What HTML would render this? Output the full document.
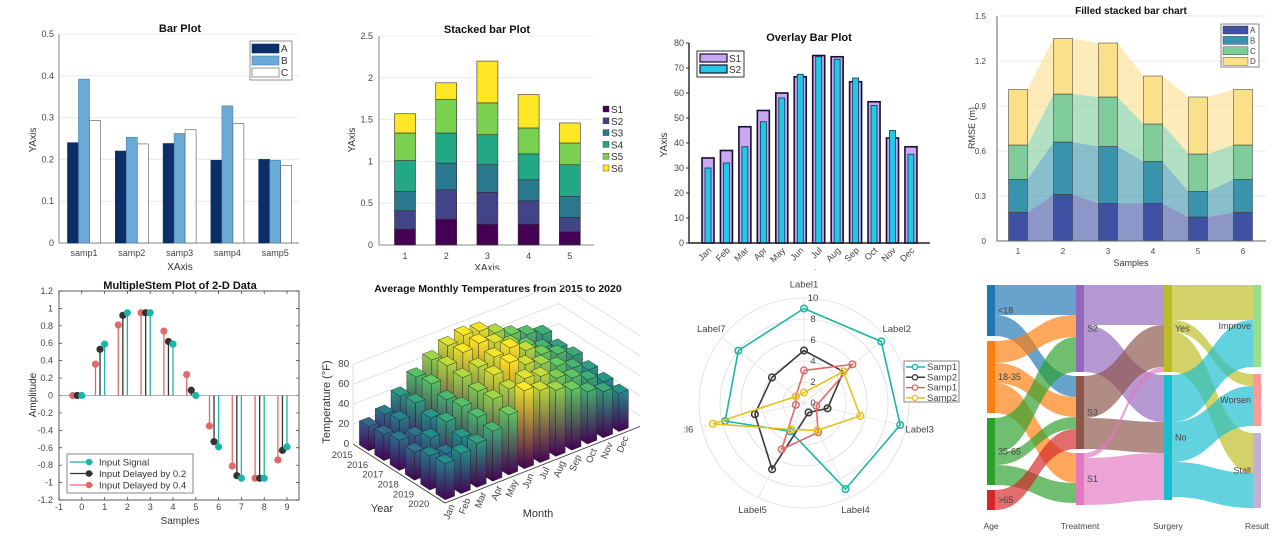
<!DOCTYPE html>
<html><head><meta charset="utf-8"><style>
body{margin:0;background:#fff;}
svg{display:block;font-family:"Liberation Sans",Arial,sans-serif;}
.tk{font-size:9px;fill:#444;}
.ttl{font-size:11px;font-weight:bold;fill:#111;}
.lab{font-size:10px;fill:#333;}
</style></head><body>
<svg id="s" width="1276" height="544" viewBox="0 0 1276 544" xmlns="http://www.w3.org/2000/svg">
<defs><clipPath id="c6"><rect x="260" y="270" width="380" height="274"/></clipPath></defs>
<rect width="1276" height="544" fill="#fff"/>
<text x="180" y="32" text-anchor="middle" class="ttl">Bar Plot</text>
<text x="487" y="33" text-anchor="middle" class="ttl">Stacked bar Plot</text>
<text x="809" y="41" text-anchor="middle" class="ttl">Overlay Bar Plot</text>
<text x="1131" y="14" text-anchor="middle" class="ttl" style="font-size:10px">Filled stacked bar chart</text>
<text x="180" y="289" text-anchor="middle" class="ttl">MultipleStem Plot of 2-D Data</text>
<text x="498" y="292" text-anchor="middle" class="ttl" style="font-size:10.5px">Average Monthly Temperatures from 2015 to 2020</text>
<text transform="translate(36,140) rotate(-90)" text-anchor="middle" class="lab">YAxis</text>
<text x="180" y="270" text-anchor="middle" class="lab">XAxis</text>
<text transform="translate(355,140) rotate(-90)" text-anchor="middle" class="lab">YAxis</text>
<text x="487" y="271" text-anchor="middle" class="lab">XAxis</text>
<text transform="translate(667,145) rotate(-90)" text-anchor="middle" class="lab">YAxis</text>
<text x="809" y="277" text-anchor="middle" class="lab">XAxis</text>
<text transform="translate(975,128) rotate(-90)" text-anchor="middle" class="lab" style="font-size:9px">RMSE (m)</text>
<text x="1131" y="266" text-anchor="middle" class="lab" style="font-size:9px">Samples</text>
<text transform="translate(36,395) rotate(-90)" text-anchor="middle" class="lab">Amplitude</text>
<text x="180" y="524" text-anchor="middle" class="lab">Samples</text>
<text transform="translate(330,402) rotate(-90)" text-anchor="middle" class="lab" style="font-size:11px">Temperature (°F)</text>
<text x="382" y="512" text-anchor="middle" class="lab" style="font-size:11px">Year</text>
<text x="538" y="517" text-anchor="middle" class="lab" style="font-size:11px">Month</text>
<rect x="360" y="270" width="600" height="8" fill="#fff"/>
<g id="p1"></g><g id="p2"></g><g id="p3"></g><g id="p4"></g><g id="p5"></g>
<g id="p6" clip-path="url(#c6)"></g><g id="p7"></g><g id="p8"></g>
</svg>
<script>
const barCats=['samp1','samp2','samp3','samp4','samp5'];
const barA=[0.24,0.22,0.238,0.198,0.2];
const barB=[0.392,0.253,0.262,0.328,0.198];
const barC=[0.293,0.237,0.271,0.286,0.185];
const barTicks=[0,0.1,0.2,0.3,0.4,0.5];

const stkCats=['1','2','3','4','5'];
const stkS1=[0.19,0.31,0.25,0.25,0.16];
const stkS2=[0.22,0.35,0.38,0.28,0.17];
const stkS3=[0.23,0.32,0.33,0.25,0.25];
const stkS4=[0.37,0.36,0.36,0.31,0.38];
const stkS5=[0.33,0.40,0.38,0.31,0.26];
const stkS6=[0.23,0.20,0.50,0.40,0.24];
const stkTicks=[0,0.5,1,1.5,2,2.5];
const stkNames=['S1','S2','S3','S4','S5','S6'];

const ovMonths=['Jan','Feb','Mar','Apr','May','Jun','Jul','Aug','Sep','Oct','Nov','Dec'];
const ovS1=[34,37,46.5,53,60,66.5,75,74.5,64.5,56.5,42,38.5];
const ovS2=[30,32,38.5,48.5,58,67.5,74.5,73.5,66,55,45,35.5];
const ovTicks=[0,10,20,30,40,50,60,70,80];

const fsCats=['1','2','3','4','5','6'];
const fsA=[0.19,0.31,0.25,0.25,0.16,0.19];
const fsB=[0.22,0.35,0.38,0.28,0.17,0.22];
const fsC=[0.23,0.32,0.33,0.25,0.25,0.23];
const fsD=[0.37,0.37,0.36,0.32,0.38,0.37];
const fsTicks=[0,0.3,0.6,0.9,1.2,1.5];

const stemX=[0,1,2,3,4,5,6,7,8,9];
const stemSig=[0,0.59,0.95,0.95,0.59,0,-0.59,-0.95,-0.95,-0.59];
const stemD2=[0,0.53,0.92,0.95,0.62,0.06,-0.53,-0.92,-0.95,-0.63];
const stemD4=[0,0.36,0.81,0.95,0.74,0.24,-0.35,-0.81,-0.95,-0.74];
const stemYTicks=[-1.2,-1,-0.8,-0.6,-0.4,-0.2,0,0.2,0.4,0.6,0.8,1,1.2];
const stemXTicks=[-1,0,1,2,3,4,5,6,7,8,9];

const t3Years=['2015','2016','2017','2018','2019','2020'];
const t3Months=['Jan','Feb','Mar','Apr','May','Jun','Jul','Aug','Sep','Oct','Nov','Dec'];
const t3Y2015=[24,30,42,55,66,74,78,76,68,60,54,48];
const t3Y2016=[26,34,45,58,70,77,80,74,66,58,50,44];
const t3Y2017=[30,28,40,52,68,72,76,79,70,60,54,46];
const t3Y2018=[28,36,46,55,64,74,80,72,66,58,50,42];
const t3Y2019=[34,30,40,54,66,70,74,70,62,56,48,40];
const t3Y2020=[36,40,44,50,60,78,72,66,60,52,46,38];
const t3ZTicks=[0,20,40,60,80];

const rdLabels=['Label1','Label2','Label3','Label4','Label5',':l6','Label7'];
const rdSamp1=[9,9.4,9.4,9.1,3,7.7,8];
const rdSamp2=[5,4.8,2.3,1,7,4.8,3.9];
const rdSamp1b=[3.1,5.9,1.2,3.1,4.9,0.8,1];
const rdSamp2b=[1,4.8,5.5,2.9,2.8,8.9,1];
const rdTicks=[0,2,4,6,8,10];

const skAge=['<18','18-35','35-65','>65'];
const skTreat=['S2','S3','S1'];
const skSurg=['Yes','No'];
const skRes=['Improve','Worsen','Stall'];
const skFlowAT=[[0,0,30],[0,1,21],[1,0,22],[1,1,20],[1,2,30],[2,0,35],[2,1,12],[2,2,20],[3,1,20]];
const skFlowTS=[[0,0,40],[0,1,47],[1,0,42],[1,1,31],[2,0,5],[2,1,47]];
const skFlowSR=[[0,0,35],[0,1,12],[0,2,40],[1,0,47],[1,1,40],[1,2,35]];

const NS='http://www.w3.org/2000/svg';
function mk(tag,attrs,parent){const e=document.createElementNS(NS,tag);for(const k in attrs)e.setAttribute(k,attrs[k]);parent.appendChild(e);return e;}
function tx(str,x,y,attrs,parent){const e=mk('text',Object.assign({x:x,y:y},attrs),parent);e.textContent=str;return e;}
function fmt(v){return (Math.round(v*10)/10).toString();}

(function(){
const g=document.getElementById('p1');
const L=59,R=299,T=34,Bt=243;
const y=v=>Bt-v/0.5*(Bt-T);
barTicks.forEach(t=>{
  const gl=mk('line',{x1:L,x2:R,y1:y(t),y2:y(t),stroke:'#ececec'},g);
  
  
  const lb=tx(String(t),L-5,y(t)+3,{class:'tk','text-anchor':'end'},g);
  
  
});
const ax=mk('path',{d:`M${L},${T}V${Bt}H${R}`,fill:'none',stroke:'#888'},g);


const series=[[barA,'#0b2e66','#0b2e66'],[barB,'#6aaad6','#4a7fa8'],[barC,'#ffffff','#555']];
barCats.forEach((c,i)=>{
  const cx=84+i*47.8;
  series.forEach((s,j)=>{
    const v=s[0][i];
    const r=mk('rect',{x:cx-16.5+j*11,y:y(v),width:11,height:Bt-y(v),fill:s[1],stroke:s[2],'stroke-width':0.6},g);
    
    
  });
  const lb=tx(c,cx,256,{class:'tk','text-anchor':'middle'},g);
  
  
});
const lg=mk('rect',{x:250,y:41,width:42,height:39,fill:'#fff',stroke:'#666','stroke-width':0.7},g);


['A','B','C'].forEach((n,j)=>{
  const sw=mk('rect',{x:252,y:44+j*12,width:27,height:9,fill:series[j][1],stroke:series[j][2],'stroke-width':0.6},g);
  
  
  const t=tx(n,281,52+j*12,{class:'lab'},g);
  
  
});
})();

(function(){
const g=document.getElementById('p2');
const L=379,R=594,T=36,Bt=245;
const y=v=>Bt-v/2.5*(Bt-T);
stkTicks.forEach(t=>{
  const gl=mk('line',{x1:L,x2:R,y1:y(t),y2:y(t),stroke:'#ececec'},g);
  
  
  const lb=tx(String(t),L-6,y(t)+3,{class:'tk','text-anchor':'end'},g);
  
  
});
const ax=mk('path',{d:`M${L},${T}V${Bt}H${R}`,fill:'none',stroke:'#888'},g);


const ser=[stkS1,stkS2,stkS3,stkS4,stkS5,stkS6];
const cols=['#440154','#414487','#2a788e','#22a884','#7ad151','#fde725'];
stkCats.forEach((c,i)=>{
  const cx=405+i*41.2;let acc=0;
  ser.forEach((s,j)=>{
    const v=s[i];
    const r=mk('rect',{x:cx-10.5,y:y(acc+v),width:21,height:y(acc)-y(acc+v),fill:cols[j],stroke:'#333','stroke-width':0.6},g);
    
    
    acc+=v;
  });
  const lb=tx(c,cx,259,{class:'tk','text-anchor':'middle'},g);
  
  
});
stkNames.forEach((n,j)=>{
  const sw=mk('rect',{x:603,y:106+j*11.8,width:6,height:6,fill:cols[j],stroke:'#333','stroke-width':0.4},g);
  
  
  const t=tx(n,611,113+j*11.8,{class:'lab'},g);
  
  
});
})();

(function(){
const g=document.getElementById('p3');
const L=689,R=930,T=43,Bt=243;
const y=v=>Bt-v/80*(Bt-T);
ovTicks.forEach(t=>{
  const tk=mk('line',{x1:L-3,x2:L,y1:y(t),y2:y(t),stroke:'#333'},g);
  
  
  const lb=tx(String(t),L-5,y(t)+3,{class:'tk','text-anchor':'end'},g);
  
  
});
ovMonths.forEach((m,i)=>{
  const cx=708+i*18.45;
  const a=mk('rect',{x:cx-6,y:y(ovS1[i]),width:12,height:Bt-y(ovS1[i]),fill:'#c8a8f0',stroke:'#1a0f2e','stroke-width':1.6},g);
  
  
  const b=mk('rect',{x:cx-3,y:y(ovS2[i]),width:6,height:Bt-y(ovS2[i]),fill:'#22c8e6',stroke:'#0b3550','stroke-width':0.8},g);
  
  
  const lb=tx(m,cx+4,251,{class:'tk','text-anchor':'end',transform:`rotate(-45 ${cx+4} 251)`},g);
  
  
});
const ax=mk('path',{d:`M${L},${T}V${Bt}H${R}`,fill:'none',stroke:'#222','stroke-width':1.4},g);


const lg=mk('rect',{x:697,y:51,width:47,height:26,fill:'#fff',stroke:'#333','stroke-width':1},g);


[['S1','#c8a8f0'],['S2','#22c8e6']].forEach((e,j)=>{
  const sw=mk('rect',{x:700,y:54+j*11,width:27,height:8,fill:e[1],stroke:'#1a0f2e','stroke-width':1.2},g);
  
  
  const t=tx(e[0],729,62+j*11,{class:'lab'},g);
  
  
});
})();

(function(){
const g=document.getElementById('p4');
const L=997,R=1266,T=16,Bt=241;
const y=v=>Bt-v/1.5*(Bt-T);
fsTicks.forEach(t=>{
  const gl=mk('line',{x1:L,x2:R,y1:y(t),y2:y(t),stroke:'#e8e8e8'},g);
  
  
  const lb=tx(t===0?'0':t.toFixed(1),L-11,y(t)+3,{class:'tk','text-anchor':'end',style:'font-size:8px'},g);
  
  
});
const ser=[fsA,fsB,fsC,fsD];
const cols=['#3f51a3','#3a93ac','#7fcb9a','#fbe08a'];
const names=['A','B','C','D'];
const cx=i=>1018+i*45;
const cum=[];let prev=fsCats.map(()=>0);
ser.forEach((s,j)=>{const c=s.map((v,i)=>prev[i]+v);cum.push({lo:prev,hi:c});prev=c;});
cum.forEach((c,j)=>{
  let d='';
  fsCats.forEach((_,i)=>{d+=(i?'L':'M')+(cx(i)-9.5)+','+y(c.hi[i])+'L'+(cx(i)+9.5)+','+y(c.hi[i]);});
  for(let i=fsCats.length-1;i>=0;i--){d+='L'+(cx(i)+9.5)+','+y(c.lo[i])+'L'+(cx(i)-9.5)+','+y(c.lo[i]);}
  const a=mk('path',{d:d+'Z',fill:cols[j],opacity:0.6},g);
  
  
});
cum.forEach((c,j)=>{
  fsCats.forEach((cat,i)=>{
    const r=mk('rect',{x:cx(i)-9.5,y:y(c.hi[i]),width:19,height:y(c.lo[i])-y(c.hi[i]),fill:cols[j],stroke:'#333','stroke-width':0.5},g);
    
    
  });
});
fsCats.forEach((cat,i)=>{
  const lb=tx(cat,cx(i),254,{class:'tk','text-anchor':'middle',style:'font-size:8px'},g);
  
  
});
const ax=mk('path',{d:`M${L},${T}V${Bt}H${R}`,fill:'none',stroke:'#666'},g);


const lg=mk('rect',{x:1221,y:24,width:38,height:43,fill:'#fff',stroke:'#555','stroke-width':0.7},g);


names.forEach((n,j)=>{
  const sw=mk('rect',{x:1223,y:26+j*10.4,width:25,height:8,fill:cols[j],stroke:'#333','stroke-width':0.4},g);
  
  
  const t=tx(n,1250,33+j*10.4,{class:'tk',style:'font-size:8px'},g);
  
  
});
})();

(function(){
const g=document.getElementById('p5');
const L=59,R=299,T=291,Bt=500;
const x=s=>L+(s+1)*22.8;
const y=v=>395.5-v*87.1;
const box=mk('rect',{x:L,y:T,width:R-L,height:Bt-T,fill:'none',stroke:'#333','stroke-width':0.8},g);


stemYTicks.forEach(t=>{
  const tk=mk('path',{d:`M${L},${y(t)}h3M${R},${y(t)}h-3`,stroke:'#333','stroke-width':0.7},g);
  
  
  const lb=tx(fmt(t),L-6,y(t)+3,{class:'tk','text-anchor':'end'},g);
  
  
});
stemXTicks.forEach(t=>{
  const tk=mk('path',{d:`M${x(t)},${Bt}v-3M${x(t)},${T}v3`,stroke:'#333','stroke-width':0.7},g);
  
  
  const lb=tx(String(t),x(t),510,{class:'tk','text-anchor':'middle'},g);
  
  
});
const bl=mk('line',{x1:L,x2:R,y1:y(0),y2:y(0),stroke:'#999','stroke-width':0.8},g);


const ser=[[stemD4,0.4,'#e06a6a','delayed-0-4'],[stemD2,0.2,'#333','delayed-0-2'],[stemSig,0,'#1bb5a5','signal']];
ser.forEach(s=>{
  stemX.forEach((sx,i)=>{
    const xx=x(sx-s[1]),yy=y(s[0][i]);
    const ln=mk('line',{x1:xx,x2:xx,y1:y(0),y2:yy,stroke:s[2],'stroke-width':1.3},g);
    
    
    const c=mk('circle',{cx:xx,cy:yy,r:3.6,fill:s[2]},g);
    
    
  });
});
const lg=mk('rect',{x:67,y:454,width:126,height:39,fill:'#fff',stroke:'#555','stroke-width':0.7},g);


[['Input Signal','#1bb5a5'],['Input Delayed by 0.2','#333'],['Input Delayed by 0.4','#e06a6a']].forEach((e,j)=>{
  const yy=462+j*11.5;
  const ln=mk('line',{x1:70,x2:93,y1:yy,y2:yy,stroke:e[1],'stroke-width':1.3},g);
  
  
  const c=mk('circle',{cx:89,cy:yy,r:3.3,fill:e[1]},g);
  
  
  const t=tx(e[0],99,yy+3.5,{class:'lab',style:'font-size:9.5px'},g);
  
  
});
})();

(function(){
const g=document.getElementById('p6');
const svg=document.getElementById('s');
const defs=svg.querySelector('defs');
const O=[445,503],M=[15.8,-6.2],B=[-15.3,-9.8],Z=1.0;
const P=(a,b,z)=>[O[0]+M[0]*a+B[0]*b,O[1]+M[1]*a+B[1]*b-z*Z];
const stops=[[0,[68,1,84]],[0.25,[59,82,139]],[0.5,[33,145,140]],[0.75,[94,201,98]],[1,[253,231,37]]];
function vir(t){t=Math.max(0,Math.min(1,t));for(let i=1;i<stops.length;i++){if(t<=stops[i][0]){const a=stops[i-1],b=stops[i];const f=(t-a[0])/(b[0]-a[0]);const c=a[1].map((v,k)=>Math.round(v+(b[1][k]-v)*f));return `rgb(${c})`;}}return 'rgb(253,231,37)';}
t3ZTicks.forEach(z=>{
  const p0=P(0,6,z),p1=P(13,6,z),p2=P(13,0,z);
  const gl=mk('path',{d:`M${p0}L${p1}L${p2}`,fill:'none',stroke:'#dcdcdc','stroke-width':0.8},g);
  
  
  const lb=tx(String(z),p0[0]-4,p0[1]+3,{class:'tk','text-anchor':'end',style:'font-size:10px'},g);
  
  
});
const zt=P(0,6,0),zt2=P(0,6,80);
const zax=mk('line',{x1:zt[0],y1:zt[1],x2:zt2[0],y2:zt2[1],stroke:'#dcdcdc'},g);


const f0=P(0,6,0),f1=P(0,0,0),f2=P(13,0,0);
const fl=mk('path',{d:`M${f0}L${f1}L${f2}`,fill:'none',stroke:'#333','stroke-width':0.8},g);


const rows=[t3Y2015,t3Y2016,t3Y2017,t3Y2018,t3Y2019,t3Y2020];
const cells=[];
rows.forEach((r,yi)=>r.forEach((v,mi)=>cells.push({yi,mi,v})));
cells.forEach(c=>{c.depth=P(c.mi+0.5,5-c.yi+0.5,0)[1];});
cells.sort((a,b)=>a.depth-b.depth);
cells.forEach((c,k)=>{
  const a=c.mi+0.5,b=5-c.yi+0.5,h=c.v,w=0.3;
  const gid='gr'+k;
  const gr=mk('linearGradient',{id:gid,x1:0,y1:0,x2:0,y2:1},defs);
  mk('stop',{offset:0,'stop-color':vir(h/80)},gr);
  mk('stop',{offset:1,'stop-color':'#440154'},gr);
  const pts=(arr)=>arr.map(p=>p.join(',')).join(' ');
  const front=[P(a-w,b-w,0),P(a+w,b-w,0),P(a+w,b-w,h),P(a-w,b-w,h)];
  const left=[P(a-w,b+w,0),P(a-w,b-w,0),P(a-w,b-w,h),P(a-w,b+w,h)];
  const top=[P(a-w,b-w,h),P(a+w,b-w,h),P(a+w,b+w,h),P(a-w,b+w,h)];
  const f=mk('polygon',{points:pts(left),fill:`url(#${gid})`,stroke:'#1a1a1a','stroke-width':0.4},g);
  
  
  const fr=mk('polygon',{points:pts(front),fill:`url(#${gid})`,stroke:'#1a1a1a','stroke-width':0.4},g);
  
  
  const tp=mk('polygon',{points:pts(top),fill:vir(h/80+0.03),stroke:'#1a1a1a','stroke-width':0.4},g);
  
  
});
t3Years.forEach((yr,yi)=>{
  const p=P(0,5-yi+0.5,0);
  const lb=tx(yr,p[0]-8,p[1]+9,{class:'tk','text-anchor':'end',style:'font-size:9.5px'},g);
  
  
});
t3Months.forEach((m,mi)=>{
  const p=P(mi+0.5,0,0);const x=p[0]+2,y=p[1]+6;
  const lb=tx(m,x,y,{class:'tk','text-anchor':'end',style:'font-size:9.5px',transform:`rotate(-68 ${x} ${y})`},g);
  
  
});
})();

(function(){
const g=document.getElementById('p7');
const cx=804,cy=403,k=10.5,n=rdLabels.length;
const ang=i=>(90-i*360/n)*Math.PI/180;
const pt=(i,v)=>[cx+Math.cos(ang(i))*v*k,cy-Math.sin(ang(i))*v*k];
rdTicks.slice(1).forEach(t=>{
  const c=mk('circle',{cx:cx,cy:cy,r:t*k,fill:'none',stroke:'#dedede','stroke-width':0.8},g);
  
  
});
rdLabels.forEach((l,i)=>{
  const p=pt(i,10);
  const s=mk('line',{x1:cx,y1:cy,x2:p[0],y2:p[1],stroke:'#e4e4e4','stroke-width':0.8},g);
  
  
  const q=pt(i,11.3);
  const lb=tx(l,q[0],q[1]+3,{class:'tk','text-anchor':'middle',style:'font-size:9.5px'},g);
  
  
});
rdTicks.forEach(t=>{
  const lb=tx(String(t),cx+9,cy-t*k+3,{class:'tk','text-anchor':'middle',style:'font-size:9.5px'},g);
  
  
});
const ser=[[rdSamp1,'#1bb5a5','samp1'],[rdSamp2,'#3a3a3a','samp2'],[rdSamp1b,'#e06a6a','samp1-red'],[rdSamp2b,'#e8c020','samp2-yellow']];
ser.forEach(s=>{
  const ps=s[0].map((v,i)=>pt(i,v));
  const pg=mk('polygon',{points:ps.map(p=>p.join(',')).join(' '),fill:'none',stroke:s[1],'stroke-width':1.6},g);
  
  
  ps.forEach(p=>{
    const c=mk('circle',{cx:p[0],cy:p[1],r:3.3,fill:'none',stroke:s[1],'stroke-width':1.5},g);
    
    
  });
});
const lg=mk('rect',{x:904,y:361,width:55,height:41,fill:'#fff',stroke:'#555','stroke-width':0.7},g);


[['Samp1','#1bb5a5'],['Samp2','#3a3a3a'],['Samp1','#e06a6a'],['Samp2','#e8c020']].forEach((e,j)=>{
  const yy=367+j*10.3;
  const ln=mk('line',{x1:906,x2:925,y1:yy,y2:yy,stroke:e[1],'stroke-width':1.5},g);
  
  
  const c=mk('circle',{cx:915,cy:yy,r:2.6,fill:'#fff',stroke:e[1],'stroke-width':1.3},g);
  
  
  const t=tx(e[0],927,yy+3,{class:'tk',style:'font-size:9.5px'},g);
  
  
});
})();

(function(){
const g=document.getElementById('p8');
const cols=[skAge,skTreat,skSurg,skRes];
const colX=[987,1076,1164,1253];
const gaps=[5,4,3,7];
const colNames=['Age','Treatment','Surgery','Result'];
const nodeCol=[['#1f77b4','#ff7f0e','#2ca02c','#d62728'],['#9467bd','#8c564b','#e377c2'],['#bcbd22','#17becf'],['#98df8a','#ff9896','#c5b0d5']];
const flows=[skFlowAT,skFlowTS,skFlowSR];
const NW=8;
const nodes=cols.map((names,ci)=>names.map((n,ni)=>{
  const out=ci<3?flows[ci].filter(f=>f[0]===ni).reduce((a,f)=>a+f[2],0):0;
  const inn=ci>0?flows[ci-1].filter(f=>f[1]===ni).reduce((a,f)=>a+f[2],0):0;
  return {v:Math.max(out,inn)};
}));
nodes.forEach((col,ci)=>{let y=285;col.forEach(nd=>{nd.y=y;nd.so=y;nd.ti=y;y+=nd.v+gaps[ci];});});
flows.forEach((fl,ci)=>{
  const sorted=fl.slice().sort((a,b)=>a[0]-b[0]||a[1]-b[1]);
  const tsorted=fl.slice().sort((a,b)=>a[1]-b[1]||a[0]-b[0]);
  const sy={},ty={};
  sorted.forEach(f=>{const nd=nodes[ci][f[0]];sy[f]=nd.so;nd.so+=f[2];});
  tsorted.forEach(f=>{const nd=nodes[ci+1][f[1]];ty[f]=nd.ti;nd.ti+=f[2];});
  sorted.forEach(f=>{
    const sx=colX[ci]+NW,tx2=colX[ci+1],mx=(sx+tx2)/2,s0=sy[f],t0=ty[f],v=f[2];
    const d=`M${sx},${s0}C${mx},${s0} ${mx},${t0} ${tx2},${t0}L${tx2},${t0+v}C${mx},${t0+v} ${mx},${s0+v} ${sx},${s0+v}Z`;
    const p=mk('path',{d:d,fill:nodeCol[ci][f[0]],opacity:0.68},g);
    
    
  });
});
nodes.forEach((col,ci)=>col.forEach((nd,ni)=>{
  const r=mk('rect',{x:colX[ci],y:nd.y,width:NW,height:nd.v,fill:nodeCol[ci][ni]},g);
  
  
  const right=ci===3;
  const lb=tx(cols[ci][ni],right?colX[ci]-2:colX[ci]+NW+3,nd.y+nd.v/2+3,{class:'tk','text-anchor':right?'end':'start',style:'font-size:9px'},g);
  
  
}));
colNames.forEach((n,ci)=>{
  const lb=tx(n,colX[ci]+4,529,{class:'tk','text-anchor':'middle',style:'font-size:8.5px'},g);
  
  
});
})();
</script>
</body></html>
